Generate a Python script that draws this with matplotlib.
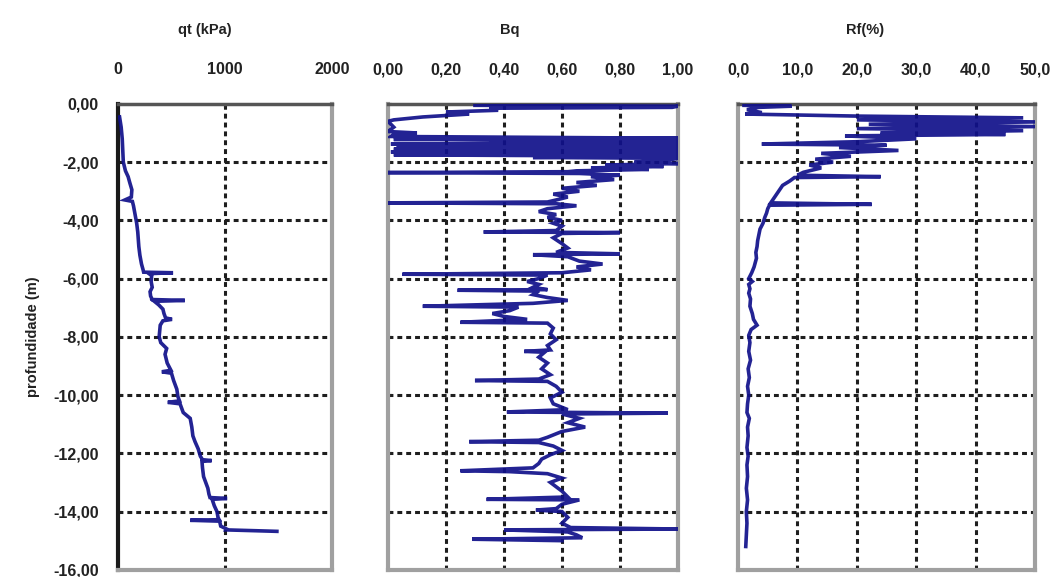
import matplotlib
matplotlib.use("Agg")
import matplotlib.pyplot as plt
from matplotlib.ticker import FuncFormatter, FixedLocator

# --- data (depth in m, positive down) ---
qt_depth = [0.45, 0.8, 1.2, 1.6, 2.0, 2.3, 2.5, 2.7, 2.95, 3.2, 3.3, 3.35, 3.5, 3.8, 4.1,
            4.4, 4.65, 4.9, 5.2, 5.5, 5.7, 5.78, 5.8, 5.83, 5.9, 6.1, 6.3, 6.45, 6.6, 6.72,
            6.75, 6.78, 6.9, 7.05, 7.2, 7.35, 7.4, 7.45, 7.6, 7.8, 8.0, 8.2, 8.4, 8.6, 8.9,
            9.15, 9.2, 9.25, 9.5, 9.8, 10.05, 10.2, 10.25, 10.3, 10.6, 10.8, 11.1, 11.4,
            11.6, 11.85, 12.1, 12.22, 12.25, 12.28, 12.5, 12.8, 13.0, 13.2, 13.4, 13.52,
            13.55, 13.58, 13.8, 14.0, 14.2, 14.28, 14.3, 14.33, 14.5, 14.6, 14.63, 14.66, 14.68]
qt_value = [15, 30, 40, 45, 50, 70, 95, 110, 130, 125, 65, 135, 145, 160, 175,
            185, 190, 195, 205, 220, 235, 240, 515, 290, 315, 310, 320, 300, 305, 320,
            625, 340, 380, 420, 430, 445, 505, 420, 395, 390, 385, 400, 455, 440, 460,
            495, 410, 500, 520, 550, 560, 575, 465, 580, 610, 675, 690, 700,
            720, 750, 770, 790, 875, 785, 790, 800, 820, 840, 850, 860,
            1020, 880, 900, 925, 935, 945, 675, 950, 960, 1015, 1010, 1300, 1485]

bq_depth = [0.05, 0.08, 0.12, 0.15, 0.22, 0.28, 0.35, 0.45, 0.55, 0.6, 0.8, 0.95, 1.0, 1.05,
            1.12, 1.18, 1.22, 1.27, 1.3, 1.33, 1.38, 1.42, 1.47, 1.52, 1.56, 1.6, 1.65, 1.7,
            1.75, 1.8, 1.84, 1.87, 1.95, 2.0, 2.05, 2.1, 2.15, 2.2, 2.25, 2.3, 2.33, 2.36,
            2.39, 2.45, 2.5, 2.6, 2.7, 2.8, 2.9, 3.0, 3.1, 3.2, 3.3, 3.37, 3.4, 3.43, 3.5,
            3.6, 3.7, 3.8, 3.9, 4.0, 4.1, 4.2, 4.35, 4.4, 4.42, 4.45, 4.6, 4.8, 4.95, 5.1,
            5.15, 5.18, 5.25, 5.4, 5.5, 5.6, 5.7, 5.8, 5.85, 5.88, 6.0, 6.1, 6.2, 6.3, 6.38,
            6.4, 6.43, 6.55, 6.65, 6.75, 6.85, 6.95, 6.98, 7.1, 7.2, 7.3, 7.4, 7.5, 7.53,
            7.7, 7.9, 8.1, 8.3, 8.45, 8.5, 8.53, 8.7, 8.9, 9.1, 9.3, 9.45, 9.5, 9.53, 9.7,
            9.9, 10.1, 10.3, 10.5, 10.58, 10.62, 10.65, 10.8, 10.95, 11.1, 11.25, 11.45,
            11.55, 11.6, 11.63, 11.75, 11.9, 12.05, 12.2, 12.35, 12.5, 12.6, 12.63, 12.7,
            12.85, 13.0, 13.15, 13.3, 13.5, 13.58, 13.6, 13.75, 13.9, 13.95, 14.0, 14.2,
            14.4, 14.55, 14.6, 14.63, 14.7, 14.8, 14.9, 14.95, 15.0]
bq_value = [0.30, 1.0, 0.98, 0.35, 0.38, 0.20, 0.28, 0.12, 0.02, 0.0, 0.02, 0.0, 0.10, 0.02,
            0.01, 1.0, 0.02, 1.0, 0.35, 1.0, 0.01, 1.0, 0.03, 1.0, 0.02, 1.0, 0.01, 1.0,
            0.02, 1.0, 0.5, 1.0, 0.95, 0.85, 1.0, 0.75, 0.95, 0.7, 0.9, 0.65, 0.62, 0.0,
            0.66, 0.8, 0.7, 0.78, 0.65, 0.72, 0.6, 0.66, 0.57, 0.62, 0.58, 0.55, 0.0, 0.58, 0.65,
            0.55, 0.52, 0.58, 0.55, 0.6, 0.57, 0.6, 0.58, 0.33, 0.8, 0.6, 0.57, 0.6, 0.62, 0.58,
            0.8, 0.5, 0.62, 0.66, 0.74, 0.65, 0.7, 0.6, 0.05, 0.55, 0.52, 0.48, 0.52, 0.5, 0.55,
            0.24, 0.52, 0.5, 0.55, 0.62, 0.5, 0.12, 0.45, 0.42, 0.36, 0.4, 0.48, 0.25, 0.55,
            0.57, 0.56, 0.58, 0.55, 0.56, 0.47, 0.54, 0.52, 0.55, 0.53, 0.56, 0.52, 0.30, 0.55, 0.58,
            0.6, 0.56, 0.57, 0.62, 0.41, 0.965, 0.6, 0.66, 0.62, 0.68, 0.6, 0.55,
            0.52, 0.28, 0.52, 0.57, 0.6, 0.56, 0.53, 0.52, 0.5, 0.25, 0.42, 0.55,
            0.6, 0.56, 0.58, 0.6, 0.62, 0.34, 0.66, 0.6, 0.58, 0.51, 0.6, 0.62,
            0.6, 0.63, 1.0, 0.4, 0.62, 0.65, 0.67, 0.29, 0.6]

rf_depth = [0.05, 0.08, 0.12, 0.2, 0.3, 0.35, 0.42, 0.48, 0.55, 0.62, 0.7, 0.78, 0.85, 0.92,
            1.0, 1.05, 1.1, 1.2, 1.3, 1.38, 1.42, 1.5, 1.6, 1.7, 1.8, 1.9, 2.0, 2.1, 2.2, 2.35,
            2.45, 2.5, 2.53, 2.65, 2.8, 2.95, 3.1, 3.25, 3.4, 3.45, 3.48, 3.6, 3.75, 3.9, 4.1,
            4.3, 4.5, 4.7, 4.9, 5.1, 5.3, 5.45, 5.6, 5.8, 6.0, 6.1, 6.2, 6.35, 6.5, 6.7, 6.95,
            7.2, 7.4, 7.6, 7.75, 7.95, 8.2, 8.5, 8.8, 9.1, 9.4, 9.7, 10.0, 10.3, 10.6, 10.8,
            11.1, 11.4, 11.8, 12.1, 12.4, 12.8, 13.2, 13.6, 14.0, 14.4, 14.8, 15.2]
rf_value = [1.0, 9.0, 3.5, 1.5, 4.0, 1.2, 20.0, 48.0, 20.0, 50.0, 22.0, 50.0, 20.0, 48.0,
            24.0, 45.0, 18.0, 30.0, 20.0, 4.0, 25.0, 17.0, 27.0, 14.0, 19.0, 13.0, 16.0, 12.0, 14.0, 11.0,
            10.0, 24.0, 9.5, 8.7, 7.5, 7.0, 6.5, 6.0, 5.5, 22.5, 5.3, 5.0, 4.8, 4.5, 4.2,
            3.7, 3.5, 3.3, 3.2, 3.0, 3.1, 2.9, 2.7, 2.3, 1.8, 2.4, 1.8, 2.0, 1.8, 2.1, 2.0,
            2.4, 2.6, 3.2, 2.2, 1.8, 2.0, 1.8, 2.1, 1.7, 1.9, 1.6, 1.8, 1.6, 1.5, 1.9,
            1.6, 1.7, 1.5, 1.7, 1.5, 1.6, 1.4, 1.6, 1.4, 1.5, 1.4, 1.3]

depth_ticks = [0, -2, -4, -6, -8, -10, -12, -14, -16]

LINE = "#10108a"
GRID_KW = dict(color="#1e1e1e", lw=2.2, ls=(0, (1.6, 1.3)))
FONT = "Liberation Sans"
plt.rcParams["font.family"] = FONT

fig = plt.figure(figsize=(10.56, 5.77), dpi=100)
bottom, height = 0.0125, 0.8075
ax1 = fig.add_axes([0.1117, bottom, 0.2027, height])
ax2 = fig.add_axes([0.3674, bottom, 0.2746, height])
ax3 = fig.add_axes([0.6989, bottom, 0.2813, height])

panels = [
    (ax1, qt_depth, qt_value, (0, 2000), [0, 1000, 2000], lambda v, p: f"{v:.0f}", [1000]),
    (ax2, bq_depth, bq_value, (0, 1.0), [0, 0.2, 0.4, 0.6, 0.8, 1.0],
     lambda v, p: f"{v:.2f}".replace(".", ","), [0.2, 0.4, 0.6, 0.8]),
    (ax3, rf_depth, rf_value, (0, 50), [0, 10, 20, 30, 40, 50],
     lambda v, p: f"{v:.1f}".replace(".", ","), [10, 20, 30, 40]),
]

for ax, d, v, xlim, xt, fmt, vgrid in panels:
    ax.plot(v, [-x for x in d], color=LINE, lw=2.6, alpha=0.92, zorder=3,
            solid_joinstyle="miter")
    ax.set_xlim(*xlim)
    ax.set_ylim(-16, 0)
    ax.xaxis.tick_top()
    ax.xaxis.set_major_locator(FixedLocator(xt))
    ax.xaxis.set_major_formatter(FuncFormatter(fmt))
    ax.yaxis.set_major_locator(FixedLocator(depth_ticks))
    ax.tick_params(axis="x", direction="in", length=3, width=1.5, pad=19,
                   labelsize=11.5, colors="#222222")
    ax.tick_params(axis="y", direction="in", length=3, width=1.5, pad=14,
                   labelsize=11.5, colors="#222222")
    for y in depth_ticks[1:-1]:
        ax.axhline(y, zorder=1, **GRID_KW)
    for x in vgrid:
        ax.axvline(x, zorder=1, **GRID_KW)
    ax.spines["top"].set_color("#555555")
    ax.spines["top"].set_linewidth(2.5)
    for s in ("right", "bottom", "left"):
        ax.spines[s].set_color("#a0a0a0")
        ax.spines[s].set_linewidth(3)

ax1.spines["left"].set_color("#1a1a1a")
ax1.yaxis.set_major_formatter(FuncFormatter(lambda v, p: f"{v:.2f}".replace(".", ",")))
ax1.set_ylabel("profundidade (m)", fontsize=10.5, fontweight="bold", labelpad=9,
               color="#222222")
for ax in (ax2, ax3):
    ax.tick_params(axis="y", labelleft=False)
for ax in (ax1, ax2, ax3):
    for lab in ax.get_xticklabels() + ax.get_yticklabels():
        lab.set_fontweight("bold")

fig.text(0.194, 0.948, "qt (kPa)", ha="center", va="center", fontsize=10.5,
         fontweight="bold", color="#222222")
fig.text(0.483, 0.948, "Bq", ha="center", va="center", fontsize=10.5,
         fontweight="bold", color="#222222")
fig.text(0.819, 0.948, "Rf(%)", ha="center", va="center", fontsize=10.5,
         fontweight="bold", color="#222222")

fig.savefig("out.png", dpi=100)
